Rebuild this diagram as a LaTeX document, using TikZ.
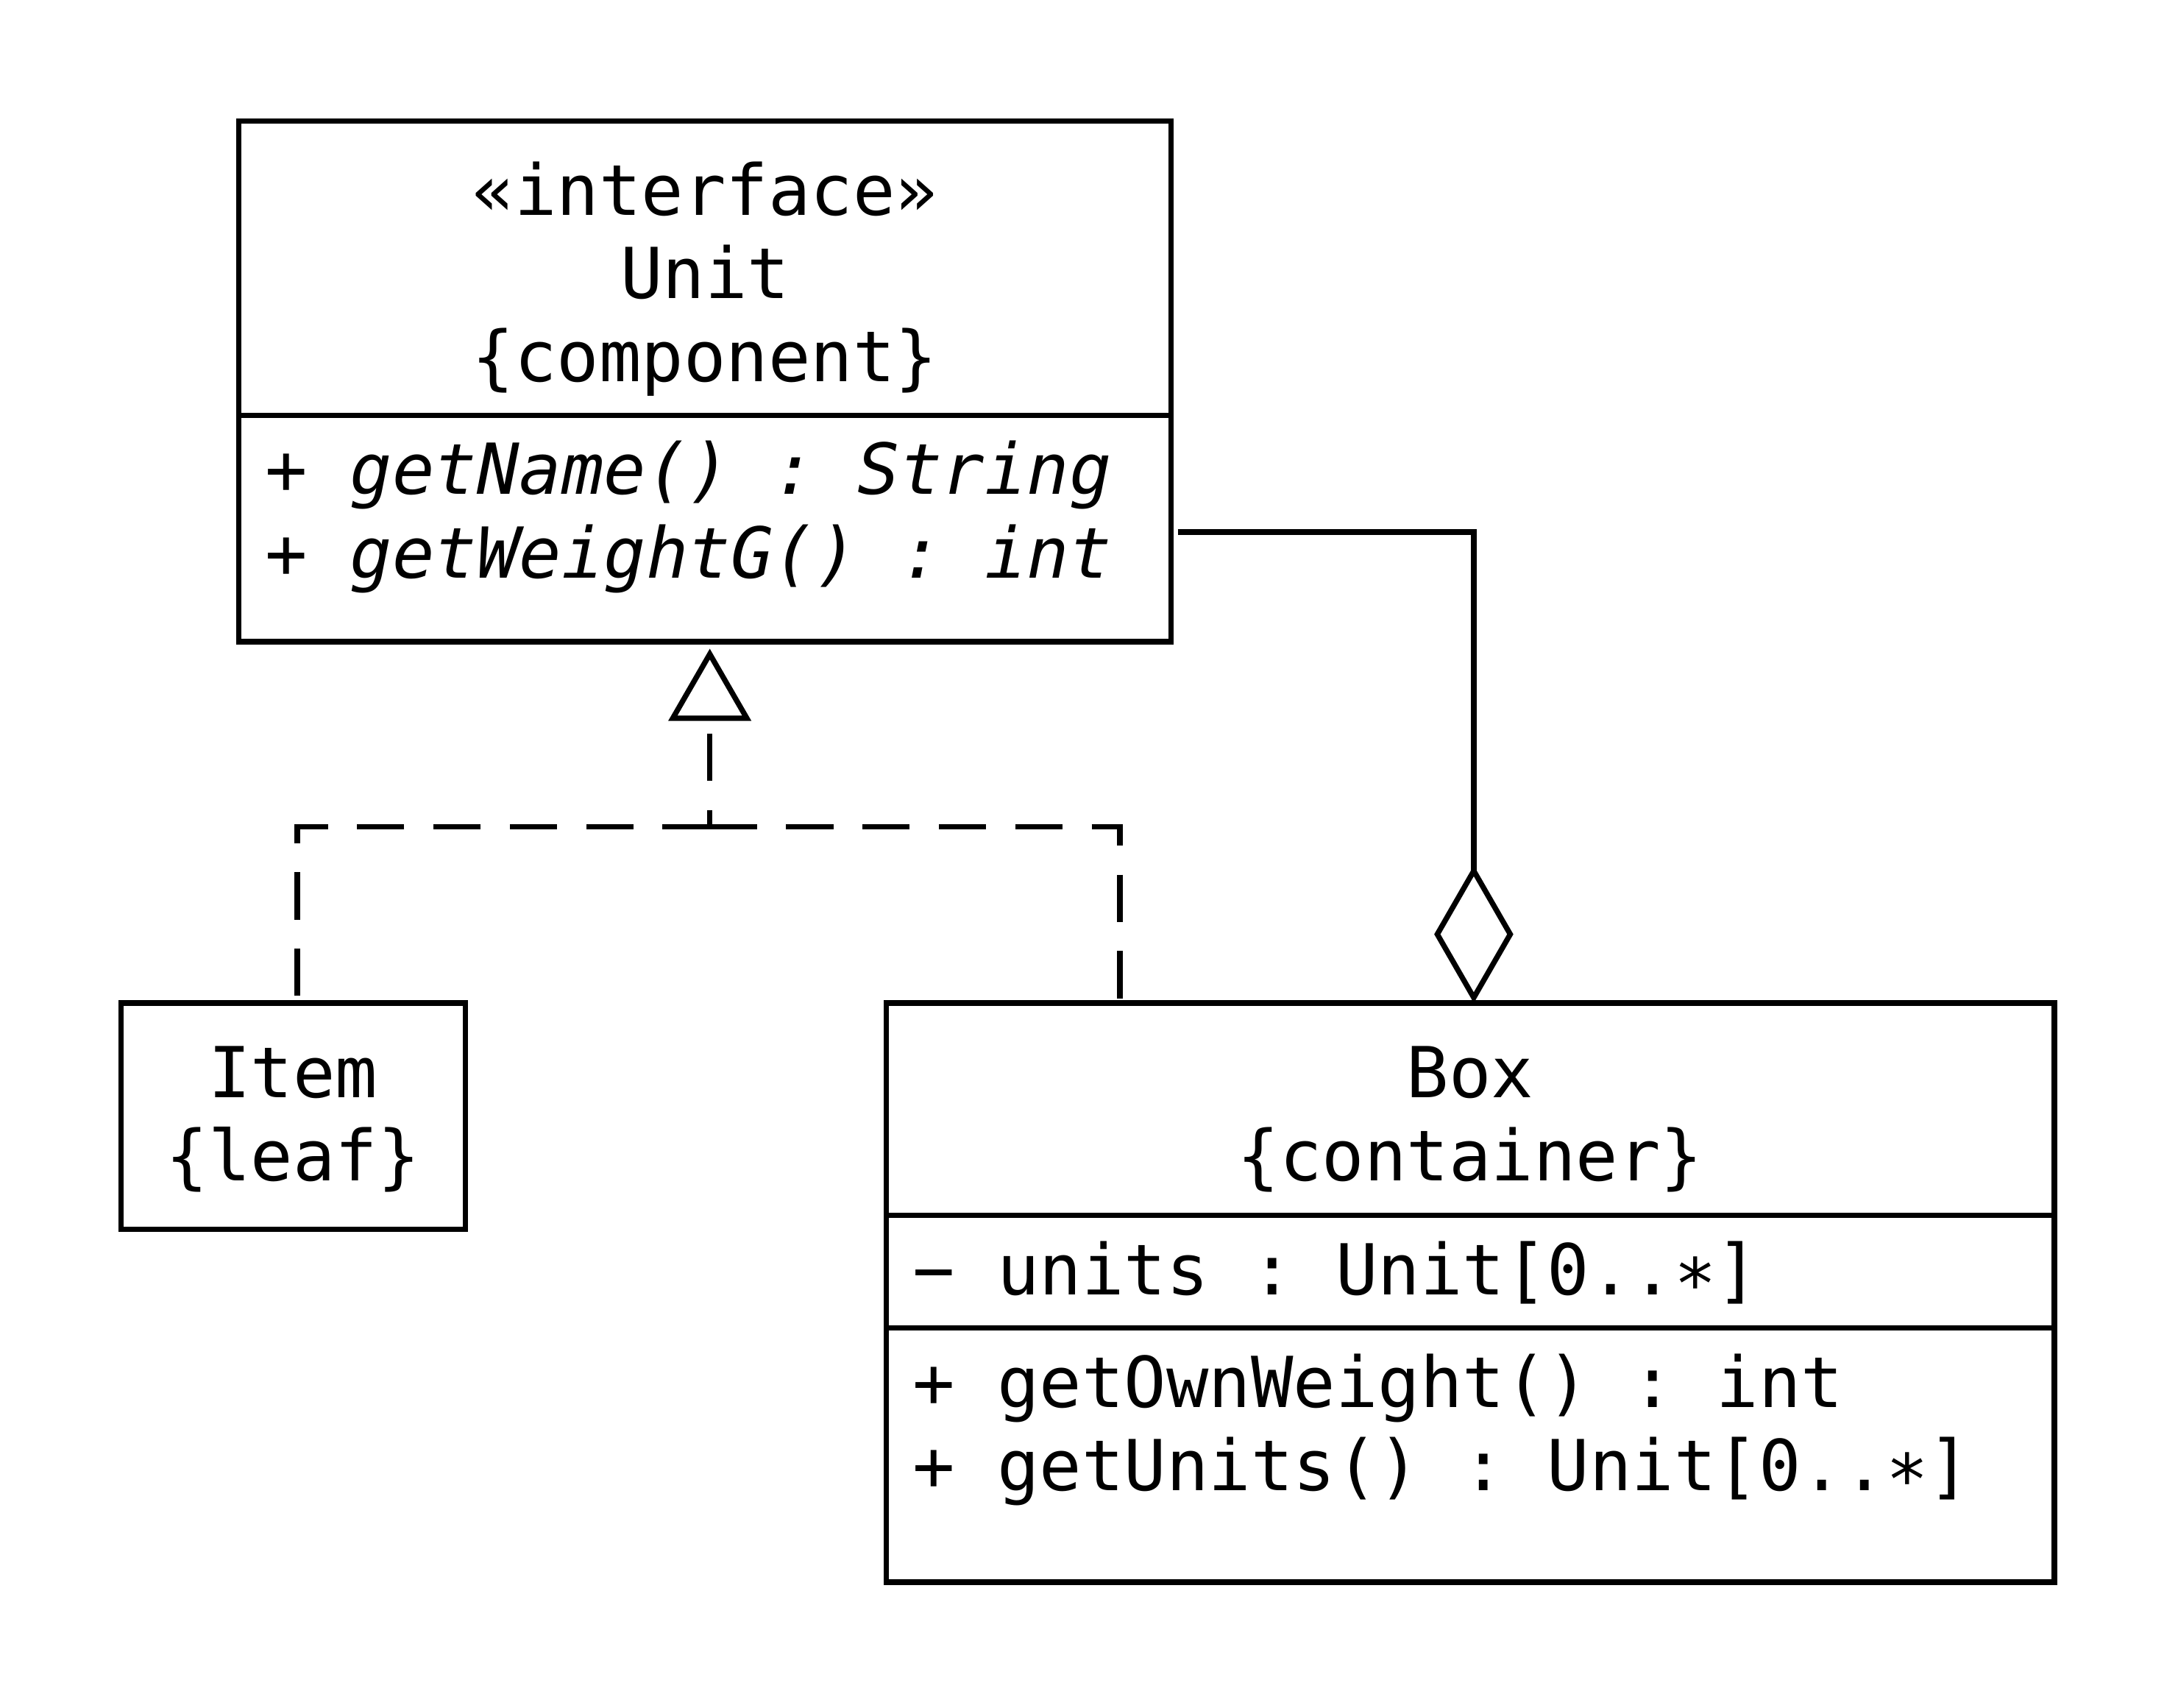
\documentclass[tikz,border=0pt]{standalone}
\usepackage{fontspec}
\setmainfont{DejaVu Sans Mono}
\usetikzlibrary{arrows.meta, positioning, calc}
\protected\def\umlspace{\spaceskip=0.602em\xspaceskip=0.602em\relax}
\tikzset{
  every picture/.style={line width=2.2pt},
  umlfont/.style={font=\fontsize{28.8}{34.1}\selectfont, execute at begin node=\umlspace},
  classhead/.style={draw, umlfont, align=center, inner sep=0pt, outer sep=0pt, text height=1.36cm},
  compart/.style={draw, umlfont, align=left, inner xsep=0.38cm, inner ysep=0pt, outer sep=0pt, text height=1.14cm},
  realize/.style={dash pattern=on 0.68cm off 0.42cm},
  realhead/.style={realize, dash phase=0.44cm, -{Triangle[open, length=1.04cm, width=1.18cm]}, shorten >=0.1cm},
  aggr/.style={-{Diamond[open, length=1.98cm, width=1.14cm]}, shorten <=0.1cm},
}
\begin{document}
\begin{tikzpicture}[x=0.02cm, y=-0.02cm]
  \useasboundingbox (0,0) rectangle (1568,1229);
  % interface
  \node[classhead, text width=13.42cm, text depth=2.88cm] (unit) at (507.5,193)
    {«interface»\\Unit\\\{component\}};
  \node[compart, below=0pt of unit, text width=12.66cm, text depth=2.12cm] (uops)
    {\itshape + getName() : String\\+ getWeightG() : int};
  % leaf
  \node[classhead, text width=4.96cm, text depth=1.9cm] (item) at (211,803.5)
    {Item\\\{leaf\}};
  % container
  \node[classhead, text width=16.82cm, text depth=1.7cm] (box) at (1058.5,798.5)
    {Box\\\{container\}};
  \node[compart, below=0pt of box, text width=16.06cm, text depth=0.48cm] (battr)
    {− units : Unit[0..∗]};
  \node[compart, below=0pt of battr, text width=16.06cm, text depth=2.52cm] (bops)
    {+ getOwnWeight() : int\\+ getUnits() : Unit[0..∗]};
  % connectors
  \coordinate (jn) at (511,595);
  \coordinate (bx) at ($(box.north west)!0.2!(box.north east)$);
  \draw[realhead] (jn) -- (uops.south -| jn);
  \draw[realize] (jn) -| ([xshift=0.06cm]item.north);
  \draw[realize] (jn) -| (bx);
  \draw[aggr] ([yshift=-0.05cm]uops.east) -| ([xshift=0.05cm]box.north);
\end{tikzpicture}
\end{document}
